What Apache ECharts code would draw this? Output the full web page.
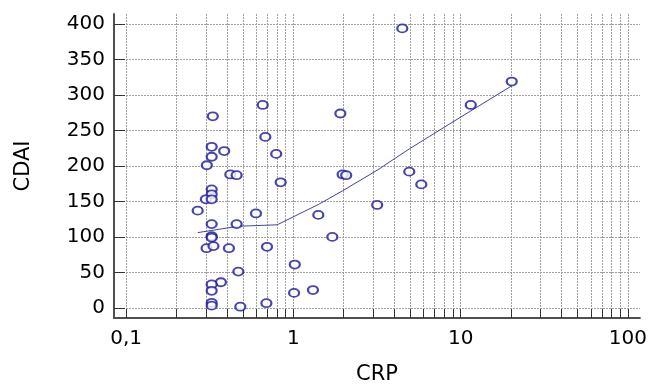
<!DOCTYPE html>
<html>
<head>
<meta charset="utf-8">
<script src="https://cdn.jsdelivr.net/npm/echarts@6/dist/echarts.min.js"></script>
<style>
  html, body { margin: 0; padding: 0; background: #fff; }
  #chart { width: 650px; height: 390px; }
</style>
</head>
<body>
<div id="chart"></div>
<script>
// CRP (mg/dl) vs CDAI
const crp = [
  0.33, 0.325, 0.386, 0.325, 0.304, 0.42, 0.458, 0.325, 0.325, 0.30,
  0.325, 0.268, 0.325, 0.458, 0.325, 0.325, 0.303, 0.333, 0.412, 0.469,
  0.369, 0.325, 0.325, 0.325, 0.325, 0.482, 4.48, 0.656, 1.91, 0.68,
  0.79, 1.97, 2.07, 4.93, 5.82, 0.84, 0.598, 1.41, 3.17, 1.71,
  0.696, 1.02, 1.01, 1.31, 0.69, 11.5, 20.2
];
const cdai = [
  270, 227, 221, 213, 201, 188, 187, 167, 160, 153,
  153, 137, 118, 118, 101, 99, 84, 87, 84, 51,
  36, 33, 24, 7, 3, 1.5, 394, 286, 274, 241,
  217, 188, 187, 192, 174, 177, 133, 131, 145, 100,
  86, 61, 21, 25, 6.5, 286, 319
];

// smoothing curve
const fitX = [0.268, 0.47, 0.80, 1.42, 1.97, 3.17, 4.93, 8.55, 20.2];
const fitY = [106, 115, 117, 146, 165, 194, 224, 259, 313];

const xGridValues = [
  0.1, 0.2, 0.3, 0.4, 0.5, 0.6, 0.7, 0.8, 0.9,
  1, 2, 3, 4, 5, 6, 7, 8, 9,
  10, 20, 30, 40, 50, 60, 70, 80, 90, 100
];
const xTickValues = [0.1, 1, 10, 100];
const xTickLabels = ['0,1', '1', '10', '100'];
const yTickValues = [0, 50, 100, 150, 200, 250, 300, 350, 400];

const lg = Math.log10;

const chart = echarts.init(document.getElementById('chart'));

const gridLine = { show: true, lineStyle: { color: '#a0a0a0', width: 1, type: [2, 1] } };
const labelFont = { fontFamily: 'DejaVu Sans', fontSize: 20, color: '#000' };

chart.setOption({
  animation: false,
  grid: { left: 114, right: 10, top: 14, bottom: 67 },
  xAxis: {
    type: 'value',
    min: lg(0.0847),
    max: lg(118),
    name: 'CRP',
    nameLocation: 'middle',
    nameGap: 46,
    nameTextStyle: { fontFamily: 'DejaVu Sans', fontSize: 21, color: '#000' },
    axisLine: { show: true, onZero: false, lineStyle: { color: '#505050', width: 2 } },
    axisTick: {
      show: true, inside: true, length: 9,
      customValues: xGridValues.map(lg),
      lineStyle: { color: '#333', width: 1 }
    },
    axisLabel: {
      ...labelFont,
      margin: 11,
      customValues: xTickValues.map(lg),
      formatter: (v) => {
        const i = xTickValues.findIndex((t) => Math.abs(lg(t) - v) < 1e-6);
        return i < 0 ? '' : xTickLabels[i];
      }
    },
    splitLine: gridLine
  },
  yAxis: {
    type: 'value',
    min: -14.4,
    max: 414.3,
    name: 'CDAI',
    nameLocation: 'middle',
    nameGap: 80,
    nameTextStyle: { fontFamily: 'DejaVu Sans', fontSize: 21, color: '#000' },
    axisLine: { show: true, onZero: false, lineStyle: { color: '#505050', width: 2 } },
    axisTick: {
      show: true, inside: true, length: 11,
      customValues: yTickValues,
      lineStyle: { color: '#333', width: 1 }
    },
    axisLabel: { ...labelFont, margin: 9, customValues: yTickValues },
    splitLine: gridLine
  },
  series: [
    {
      type: 'line',
      data: fitX.map((x, i) => [lg(x), fitY[i]]),
      showSymbol: false,
      lineStyle: { color: '#4040aa', width: 1 },
      z: 2
    },
    {
      type: 'scatter',
      data: crp.map((x, i) => [lg(x), cdai[i]]),
      symbol: 'emptyCircle',
      symbolSize: [10, 8],
      itemStyle: { color: '#18189a', borderWidth: 1.3 },
      z: 3
    }
  ]
});
</script>
</body>
</html>
